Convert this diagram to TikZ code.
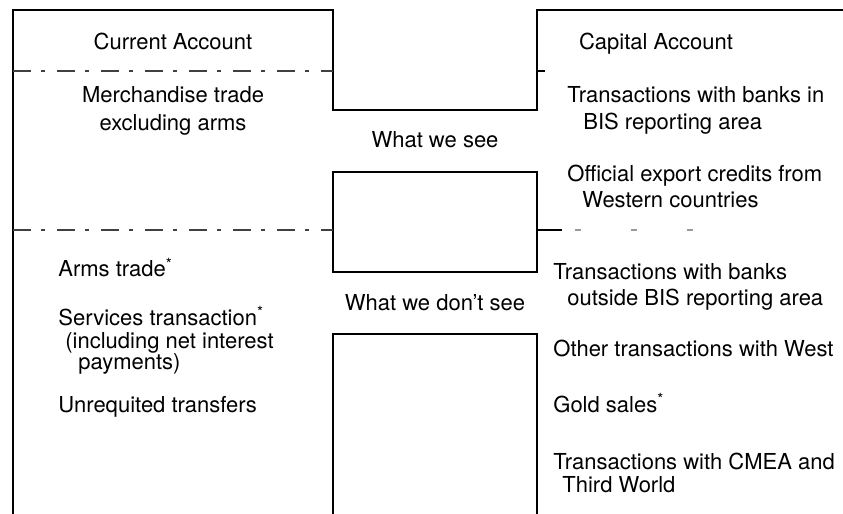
\documentclass[tikz,border=0pt]{standalone}
\usepackage{fontspec}
\setmainfont{TeX Gyre Heros}

\tikzset{
  frame/.style={black, line width=1.3pt},
  divider/.style={black!75, line width=0.7pt, dash pattern=on 9pt off 5pt on 2pt off 6pt},
  stub/.style={black, line width=0.7pt},
  txt/.style={inner sep=0pt, font=\fontsize{11}{13}\selectfont},
  itemleft/.style={txt, anchor=base west},
  head/.style={txt, anchor=base}
}

\begin{document}
\begin{tikzpicture}[x=0.5pt, y=-0.5pt]
            \useasboundingbox (0,0) rectangle (843,514);

            % outline of the two accounts
            \draw[frame] (13,520) -- (13,10) -- (333,10) -- (333,110) -- (537,110) -- (537,10) -- (850,10);
            \draw[frame] (333,172) rectangle (537,272);
            \draw[frame] (333,520) -- (333,334) -- (537,334) -- (537,520);

            \draw[divider] (13,71) -- (333,71);
            \draw[divider] (13,230) -- (333,230);
            \draw[stub] (537,71) -- ++(8,0);
            \draw[stub] (537,230) -- ++(25,0);
            \draw[divider, black!40, dash pattern=on 3pt off 25pt] (575,230) -- (700,230);

            % current account
            \node[head] (curacc) at (173,49) {Current Account};
            \node[head] (merch1) at (173,103) {Merchandise trade};
            \node[head] (merch2) at (173,130) {excluding arms};
            \node[itemleft] (arms) at (58,277) {Arms trade\textsuperscript{*}};
            \node[itemleft] (serv1) at (58,325) {Services transaction\textsuperscript{*}};
            \node[itemleft] (serv2) at (65,348) {(including net interest};
            \node[itemleft] (serv3) at (78,369) {payments)};
            \node[itemleft] (unreq) at (58,412) {Unrequited transfers};

            % middle
            \node[head] (see) at (435,148) {What we see};
            \node[head] (dontsee) at (435,310) {What we don't see};

            % capital account
            \node[head] (capacc) at (656,49) {Capital Account};
            \node[itemleft] (bis1) at (567,103) {Transactions with banks in};
            \node[itemleft] (bis2) at (583,129) {BIS reporting area};
            \node[itemleft] (off1) at (567,181) {Official export credits from};
            \node[itemleft] (off2) at (582,207) {Western countries};
            \node[itemleft] (out1) at (553,279) {Transactions with banks};
            \node[itemleft] (out2) at (567,306) {outside BIS reporting area};
            \node[itemleft] (west) at (553,357) {Other transactions with West};
            \node[itemleft] (gold) at (553,412) {Gold sales\textsuperscript{*}};
            \node[itemleft] (cmea1) at (553,469) {Transactions with CMEA and};
            \node[itemleft] (cmea2) at (562,492) {Third World};
        \end{tikzpicture}
\end{document}
